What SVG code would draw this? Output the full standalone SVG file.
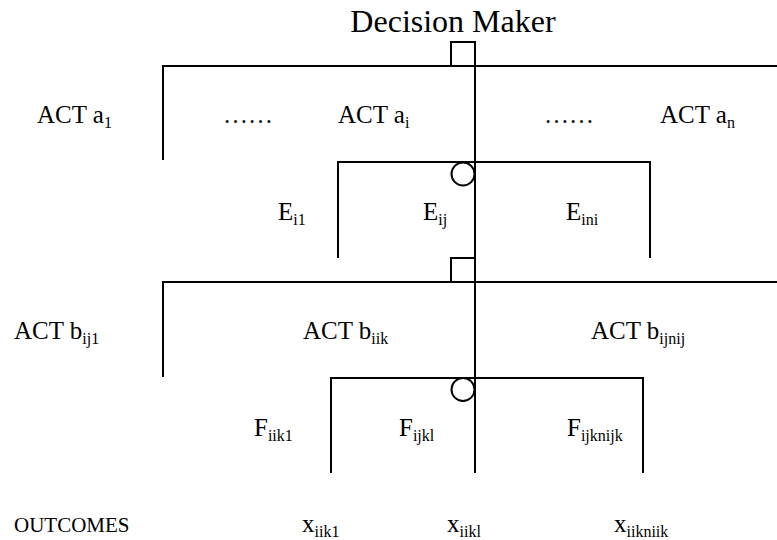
<svg xmlns="http://www.w3.org/2000/svg" width="777" height="540" viewBox="0 0 777 540">
  <style>
    .ln { fill: none; stroke: #000; stroke-width: 2; }
    text { font-family: 'Liberation Serif', 'DejaVu Serif', serif; font-size: 25px; fill: #000; }
    .title { font-size: 32px; }
    .s { font-size: 16px; }
  </style>
  <rect width="777" height="540" fill="#fff"/>

  <!-- branch lines -->
  <g id="connectors">
    <!-- acts a -->
    <path class="ln" d="M163,160 V66 H777"/>
    <!-- events E -->
    <path class="ln" d="M338,258 V162 H650 V258"/>
    <!-- acts b -->
    <path class="ln" d="M163,377 V282 H777"/>
    <!-- events F -->
    <path class="ln" d="M331,473 V378 H643 V473"/>
    <!-- main trunk -->
    <path class="ln" d="M475,42 V473"/>
  </g>

  <g id="decision-maker">
    <text class="title" x="453" y="32" text-anchor="middle" font-family="Liberation Serif, serif">Decision Maker</text>
  </g>

  <!-- decision nodes -->
  <g id="decision-a">
    <rect class="ln" x="451" y="42" width="24" height="24"/>
  </g>
  <g id="decision-b">
    <rect class="ln" x="451" y="258" width="24" height="24"/>
  </g>

  <!-- chance nodes -->
  <g id="chance-e">
    <circle class="ln" cx="463" cy="174" r="11.5"/>
  </g>
  <g id="chance-f">
    <circle class="ln" cx="463" cy="389.5" r="11.5"/>
  </g>

  <!-- act a labels -->
  <g id="acts-a">
    <text x="37" y="123">ACT a<tspan class="s" dy="5">1</tspan></text>
    <text x="223" y="123">……</text>
    <text x="338" y="123">ACT a<tspan class="s" dy="5">i</tspan></text>
    <text x="544" y="123">……</text>
    <text x="660" y="123">ACT a<tspan class="s" dy="5">n</tspan></text>
  </g>

  <!-- event E labels -->
  <g id="events-e">
    <text x="278" y="220">E<tspan class="s" dy="5">i1</tspan></text>
    <text x="423" y="220">E<tspan class="s" dy="5">ij</tspan></text>
    <text x="566" y="220">E<tspan class="s" dy="5">ini</tspan></text>
  </g>

  <!-- act b labels -->
  <g id="acts-b">
    <text x="14" y="339">ACT b<tspan class="s" dy="5">ij1</tspan></text>
    <text x="303" y="339">ACT b<tspan class="s" dy="5">iik</tspan></text>
    <text x="591" y="339">ACT b<tspan class="s" dy="5">ijnij</tspan></text>
  </g>

  <!-- event F labels -->
  <g id="events-f">
    <text x="254" y="436">F<tspan class="s" dy="5">iik1</tspan></text>
    <text x="399" y="436">F<tspan class="s" dy="5">ijkl</tspan></text>
    <text x="567" y="436">F<tspan class="s" dy="5">ijknijk</tspan></text>
  </g>

  <!-- outcomes -->
  <g id="outcomes">
    <text x="14" y="532" style="font-size:21px">OUTCOMES</text>
    <text x="302" y="532">x<tspan class="s" dy="5">iik1</tspan></text>
    <text x="447" y="532">x<tspan class="s" dy="5">iikl</tspan></text>
    <text x="614" y="532">x<tspan class="s" dy="5">iikniik</tspan></text>
  </g>
</svg>
